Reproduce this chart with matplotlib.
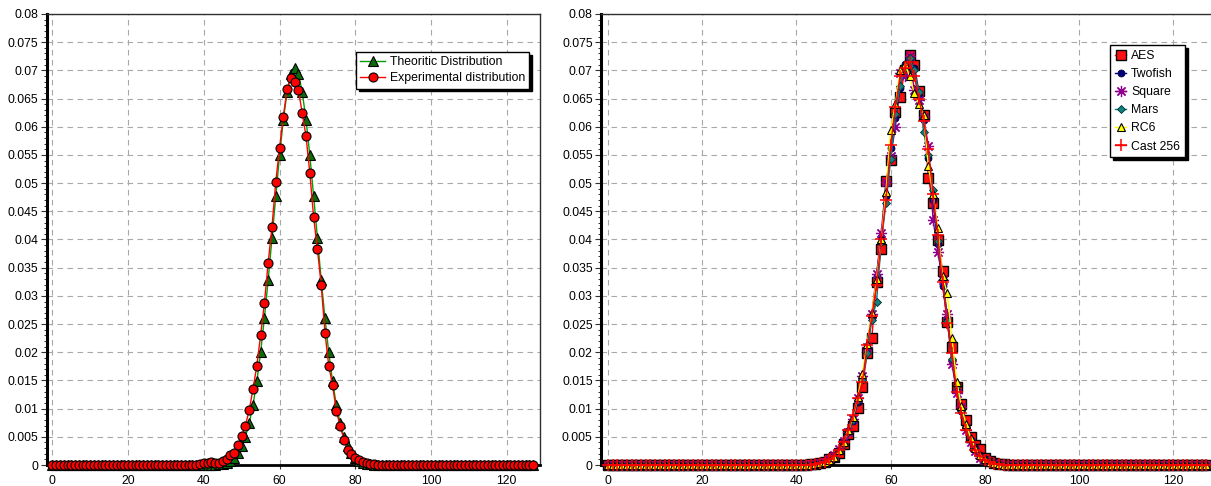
import matplotlib
matplotlib.use("Agg")
import matplotlib.pyplot as plt
import numpy as np
from matplotlib.ticker import MultipleLocator, FuncFormatter

plt.rcParams['font.family'] = ['Liberation Sans', 'DejaVu Sans']

# ---------------- data ----------------
k_all = list(range(128))

# Theoretic distribution (values for k = 40..88, zero elsewhere)
theo_start = 40
theo_vals = [0.0000075, 0.0000161, 0.0000333, 0.000067, 0.000129, 0.000240, 0.000433,
             0.000756, 0.001275, 0.002082, 0.003290, 0.005032, 0.007451, 0.010685,
             0.014840, 0.019967, 0.026029, 0.032878, 0.040247, 0.047750, 0.054913,
             0.061215, 0.066152, 0.069302, 0.070386, 0.069302, 0.066152, 0.061215,
             0.054913, 0.047750, 0.040247, 0.032878, 0.026029, 0.019967, 0.014840,
             0.010685, 0.007451, 0.005032, 0.003290, 0.002082, 0.001275, 0.000756,
             0.000433, 0.000240, 0.000129, 0.000067, 0.0000333, 0.0000161, 0.0000075]

# Experimental distribution (values for k = 39..85)
exp_start = 39
exp_vals = [0.0001, 0.0004, 0.0004, 0.0005, 0.0003, 0.0004, 0.0007, 0.0011, 0.0018,
            0.0022, 0.0035, 0.0051, 0.0070, 0.0098, 0.0135, 0.0176, 0.0230, 0.0287,
            0.0359, 0.0422, 0.0502, 0.0562, 0.0618, 0.0667, 0.0687, 0.0679, 0.0665,
            0.0624, 0.0583, 0.0518, 0.0440, 0.0383, 0.0320, 0.0235, 0.0176, 0.0142,
            0.0096, 0.0070, 0.0045, 0.0026, 0.0019, 0.0012, 0.0008, 0.0005, 0.0003,
            0.0002, 0.0001]

# Right panel series (start index, values)
aes_start = 43
aes_vals = [0.0001, 0.0002, 0.0004, 0.0006, 0.0010, 0.0015, 0.0022, 0.0037, 0.0055,
            0.0070, 0.0101, 0.0138, 0.0199, 0.0226, 0.0325, 0.0383, 0.0503, 0.0541,
            0.0626, 0.0652, 0.0700, 0.0728, 0.0710, 0.0663, 0.0620, 0.0509, 0.0464,
            0.0399, 0.0345, 0.0254, 0.0209, 0.0138, 0.0109, 0.0079, 0.0049, 0.0036,
            0.0028, 0.0012, 0.0007, 0.0004, 0.0002, 0.0001]
twofish_start = 44
twofish_vals = [0.0001, 0.0003, 0.0005, 0.0009, 0.0016, 0.0025, 0.0040, 0.0060, 0.0078,
                0.0112, 0.0152, 0.0205, 0.0262, 0.0335, 0.0405, 0.0478, 0.0562, 0.0615,
                0.0668, 0.0712, 0.0718, 0.0705, 0.0655, 0.0612, 0.0545, 0.0470, 0.0392,
                0.0318, 0.0260, 0.0185, 0.0132, 0.0095, 0.0068, 0.0045, 0.0030, 0.0018,
                0.0010, 0.0006, 0.0003, 0.0002, 0.0001]
square_start = 44
square_vals = [0.0002, 0.0003, 0.0006, 0.0010, 0.0018, 0.0028, 0.0042, 0.0058, 0.0082,
               0.0118, 0.0158, 0.0210, 0.0268, 0.0338, 0.0412, 0.0502, 0.0548, 0.0600,
               0.0695, 0.0690, 0.0725, 0.0665, 0.0648, 0.0618, 0.0565, 0.0435, 0.0378,
               0.0328, 0.0268, 0.0180, 0.0128, 0.0102, 0.0062, 0.0040, 0.0025, 0.0013,
               0.0008, 0.0005, 0.0003, 0.0001]
mars_start = 44
mars_vals = [0.0001, 0.0002, 0.0004, 0.0008, 0.0014, 0.0024, 0.0038, 0.0058, 0.0080,
             0.0115, 0.0150, 0.0198, 0.0258, 0.0290, 0.0395, 0.0465, 0.0542, 0.0622,
             0.0672, 0.0705, 0.0722, 0.0700, 0.0662, 0.0590, 0.0550, 0.0488, 0.0398,
             0.0330, 0.0255, 0.0188, 0.0140, 0.0098, 0.0066, 0.0044, 0.0028, 0.0016,
             0.0010, 0.0005, 0.0003, 0.0001]
rc6_start = 44
rc6_vals = [0.0001, 0.0003, 0.0005, 0.0009, 0.0015, 0.0026, 0.0040, 0.0062, 0.0085,
            0.0120, 0.0162, 0.0215, 0.0270, 0.0330, 0.0400, 0.0485, 0.0595, 0.0640,
            0.0700, 0.0712, 0.0690, 0.0660, 0.0640, 0.0620, 0.0530, 0.0480, 0.0420,
            0.0335, 0.0305, 0.0225, 0.0148, 0.0105, 0.0072, 0.0048, 0.0030, 0.0018,
            0.0011, 0.0006, 0.0003, 0.0001]
cast_start = 44
cast_vals = [0.0002, 0.0003, 0.0006, 0.0010, 0.0016, 0.0026, 0.0040, 0.0062, 0.0088,
             0.0118, 0.0148, 0.0212, 0.0265, 0.0320, 0.0400, 0.0470, 0.0568, 0.0635,
             0.0690, 0.0705, 0.0715, 0.0690, 0.0650, 0.0610, 0.0560, 0.0480, 0.0408,
             0.0325, 0.0252, 0.0198, 0.0130, 0.0092, 0.0062, 0.0040, 0.0026, 0.0016,
             0.0009, 0.0005, 0.0002, 0.0001]

left_labels = ["Theoritic Distribution", "Experimental distribution"]
right_labels = ["AES", "Twofish", "Square", "Mars", "RC6", "Cast 256"]


def full(start, vals):
    arr = np.zeros(len(k_all))
    arr[start:start + len(vals)] = vals
    return arr


# ---------------- figure ----------------
W, H = 1211, 486
fig = plt.figure(figsize=(W / 100, H / 100), dpi=100)


def style_axes(ax, xmax):
    ax.set_xlim(-1.5, xmax)
    ax.set_ylim(0, 0.08)
    ax.xaxis.set_major_locator(MultipleLocator(20))
    ax.yaxis.set_major_locator(MultipleLocator(0.005))
    ax.yaxis.set_minor_locator(MultipleLocator(0.001))
    ax.yaxis.set_major_formatter(FuncFormatter(lambda v, p: f"{v:g}" if abs(v) > 1e-12 else "0"))
    ax.grid(True, which='major', color='#a8a8a8', linestyle=(0, (5, 4)), linewidth=0.8)
    ax.set_axisbelow(True)
    ax.tick_params(axis='y', which='major', direction='out', length=4.5, width=0.8,
                   labelsize=8.8, pad=1.5, color='#333333')
    ax.tick_params(axis='y', which='minor', direction='out', length=2.5, width=0.7,
                   color='#333333')
    ax.tick_params(axis='x', which='major', direction='out', length=3, width=0.8,
                   labelsize=8.8, pad=4, color='#333333')
    ax.spines['left'].set_linewidth(2.2)
    ax.spines['left'].set_color('black')
    ax.spines['bottom'].set_linewidth(2.0)
    ax.spines['bottom'].set_color('black')
    ax.spines['top'].set_linewidth(1.0)
    ax.spines['top'].set_color('#303030')
    ax.spines['right'].set_linewidth(1.0)
    ax.spines['right'].set_color('#303030')


top = 1 - 14 / H
bottom = 21 / H
axL = fig.add_axes([46.7 / W, bottom, (540 - 46.7) / W, top - bottom])
axR = fig.add_axes([601 / W, bottom, (W - 601) / W, top - bottom])
style_axes(axL, 128.8)
style_axes(axR, 128.0)
axR.spines['right'].set_visible(False)

# ---- left panel ----
theo = full(theo_start, theo_vals)
expd = full(exp_start, exp_vals)
axL.plot(k_all, theo, color='#00a000', lw=1.0, marker='^', markersize=6.5,
         markerfacecolor='#0b6b0b', markeredgecolor='black', markeredgewidth=0.8,
         label=left_labels[0], clip_on=False, zorder=3)
axL.plot(k_all, expd, color='#ff0000', lw=1.0, marker='o', markersize=6.5,
         markerfacecolor='#ff0000', markeredgecolor='black', markeredgewidth=0.8,
         label=left_labels[1], clip_on=False, zorder=4)

legL = axL.legend(loc='upper right', bbox_to_anchor=(0.978, 0.916), borderaxespad=0,
                  fontsize=8.8, frameon=True, fancybox=False, edgecolor='black',
                  framealpha=1, handlelength=2.0, handletextpad=0.4, labelspacing=0.35,
                  borderpad=0.35, shadow={'color': 'black', 'alpha': 1})
legL.get_frame().set_linewidth(1.0)

# ---- right panel ----
series = [
    (aes_start, aes_vals, dict(color='#ff0000', marker='s', markersize=7.5,
                               markerfacecolor='#ff1010', markeredgecolor='black',
                               markeredgewidth=1.0)),
    (twofish_start, twofish_vals, dict(color='#000080', marker='o', markersize=5,
                                       markerfacecolor='#00007a', markeredgecolor='#000040',
                                       markeredgewidth=0.6)),
    (square_start, square_vals, dict(color='#800080', marker=(8, 2, 0), markersize=8,
                                     markeredgecolor='#900090', markeredgewidth=0.9)),
    (mars_start, mars_vals, dict(color='#008080', marker='D', markersize=4.5,
                                 markerfacecolor='#108080', markeredgecolor='#003030',
                                 markeredgewidth=0.6)),
    (rc6_start, rc6_vals, dict(color='#ffff00', marker='^', markersize=6,
                               markerfacecolor='#ffff00', markeredgecolor='black',
                               markeredgewidth=0.8)),
    (cast_start, cast_vals, dict(color='#ff0000', marker='+', markersize=8,
                                 markeredgecolor='#ff0000', markeredgewidth=1.1)),
]
for (st, vals, kw), lab in zip(series, right_labels):
    axR.plot(k_all, full(st, vals), lw=1.0, label=lab, clip_on=False, zorder=3, **kw)

legR = axR.legend(loc='upper right', bbox_to_anchor=(0.957, 0.931), borderaxespad=0,
                  fontsize=8.8, frameon=True, fancybox=False, edgecolor='black',
                  framealpha=1, handlelength=0.9, handletextpad=0.4, labelspacing=0.5,
                  borderpad=0.4, shadow={'color': 'black', 'alpha': 1})
legR.get_frame().set_linewidth(1.0)
legR.set_zorder(10)
legL.set_zorder(10)

fig.savefig("out.png", dpi=100)
